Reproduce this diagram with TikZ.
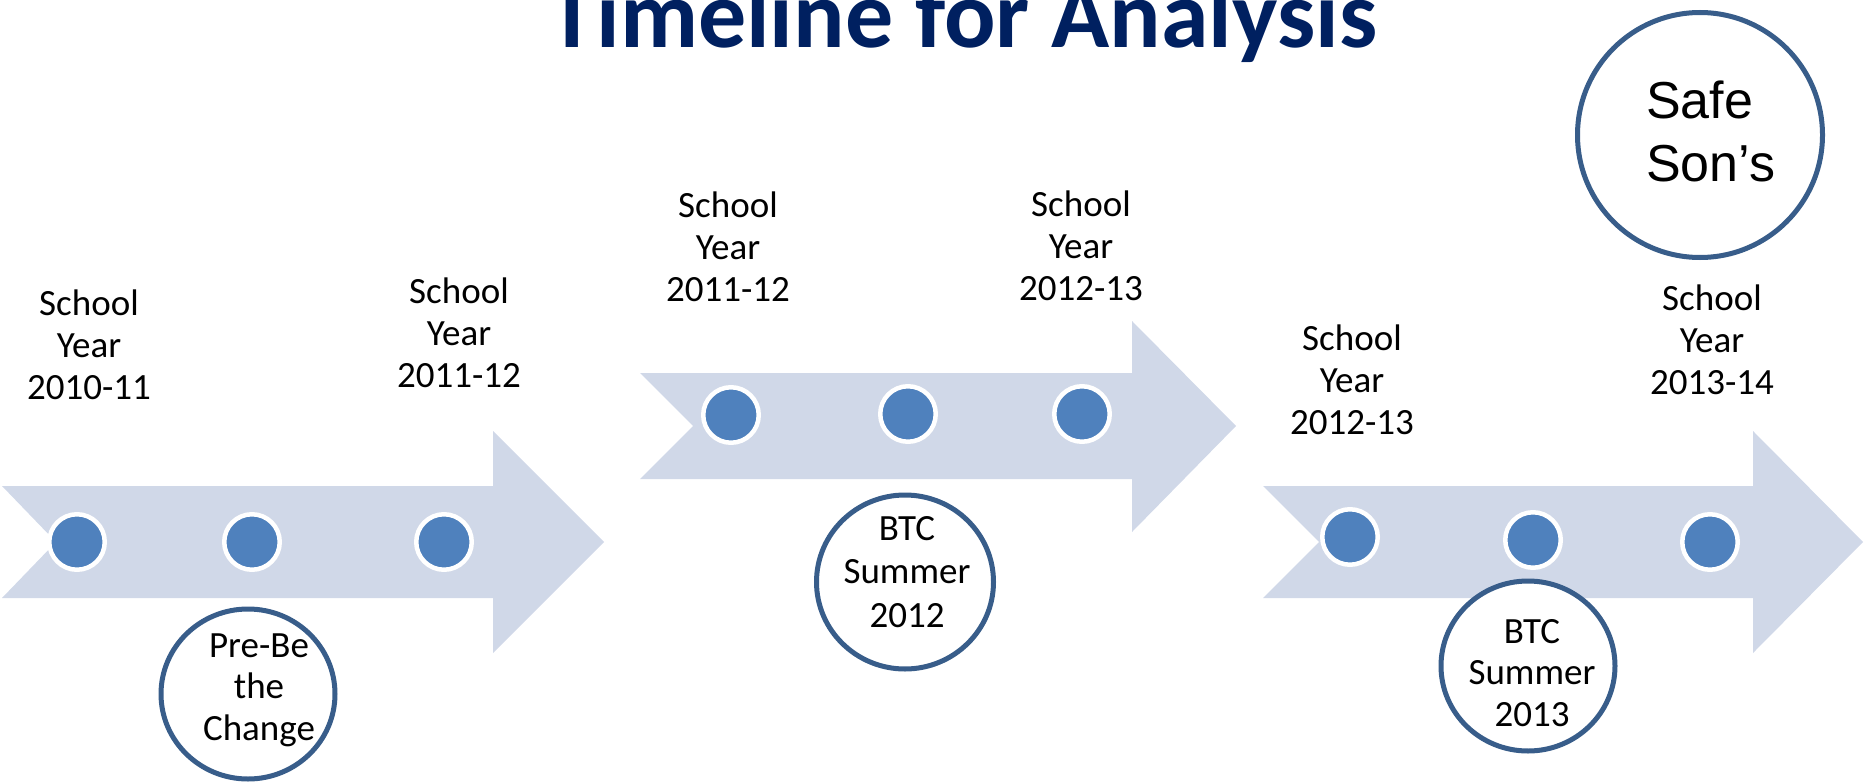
\documentclass[tikz,border=0pt]{standalone}
\usepackage{fontspec}
\setmainfont{Carlito}
\newfontfamily\arialfont{Liberation Sans}
\usetikzlibrary{shapes.geometric}
\definecolor{arrowfill}{HTML}{D0D8E8}
\definecolor{dotblue}{HTML}{4F81BD}
\definecolor{ringblue}{HTML}{385D8A}
\definecolor{titleblue}{HTML}{002060}
\begin{document}
\begin{tikzpicture}[x=1pt,y=-1pt,
  tlarrow/.style={fill=arrowfill,draw=none},
  dot/.style={circle,fill=dotblue,draw=white,line width=4.5pt,minimum size=55.5pt,inner sep=0pt},
  ring/.style={ellipse,draw=ringblue,line width=5pt,fill=white,minimum width=174pt,minimum height=170pt,inner sep=0pt},
  yearlabel/.style={align=center,font=\fontsize{37}{42}\selectfont,anchor=base,inner sep=0pt},
  ringtext/.style={align=center,font=\fontsize{37}{41.5}\selectfont,anchor=base,inner sep=0pt}]
\useasboundingbox (0,0) rectangle (1872,784);
\clip (0,0) rectangle (1872,784);
% title
\node[font=\fontsize{96}{100}\selectfont\bfseries,text=titleblue,anchor=base,inner sep=0pt] (title) at (963,48) {Timeline for Analysis};
% arrows
\draw[tlarrow] (2,486) -- (493,486) -- (493,431) -- (604,542) -- (493,653) -- (493,598) -- (2,598) -- (56,542) -- cycle;
\draw[tlarrow] (640,373) -- (1132,373) -- (1132,321) -- (1236,426) -- (1132,532) -- (1132,479) -- (640,479) -- (693,426) -- cycle;
\draw[tlarrow] (1263,486) -- (1753,486) -- (1753,431) -- (1863,542) -- (1753,653) -- (1753,598) -- (1263,598) -- (1319,542) -- cycle;
% dots
\node[dot] (d11) at (77,542) {};
\node[dot] (d12) at (252,542) {};
\node[dot] (d13) at (444,542) {};
\node[dot] (d21) at (731,415) {};
\node[dot] (d22) at (908,414) {};
\node[dot] (d23) at (1082,414) {};
\node[dot] (d31) at (1350,537) {};
\node[dot] (d32) at (1533,540) {};
\node[dot] (d33) at (1710,542) {};
% year labels (anchor = baseline of last line)
\node[yearlabel] (y1) at (89,399) {School\\Year\\2010-11};
\node[yearlabel] (y2) at (459,387) {School\\Year\\2011-12};
\node[yearlabel] (y3) at (728,301) {School\\Year\\2011-12};
\node[yearlabel] (y4) at (1081,300) {School\\Year\\2012-13};
\node[yearlabel] (y5) at (1352,434) {School\\Year\\2012-13};
\node[yearlabel] (y6) at (1712,394) {School\\Year\\2013-14};
% event circles
\node[ring] (pre) at (248,694) {};
\node[ringtext] (pret) at (259,740) {Pre-Be\\the\\Change};
\node[ring,minimum width=177pt,minimum height=174pt] (btc12) at (905,582) {};
\node[ringtext,font=\fontsize{37}{43.5}\selectfont] (btc12t) at (907,627) {BTC\\Summer\\2012};
\node[ring] (btc13) at (1528,666) {};
\node[ringtext] (btc13t) at (1532,726) {BTC\\Summer\\2013};
\node[ellipse,draw=ringblue,line width=5pt,fill=white,minimum width=245pt,minimum height=245pt,inner sep=0pt] (safe) at (1700,135) {};
\node[align=left,font=\arialfont\fontsize{52}{63}\selectfont,anchor=base west,inner sep=0pt] (safet) at (1646,181) {Safe\\Son’s};
\end{tikzpicture}
\end{document}
